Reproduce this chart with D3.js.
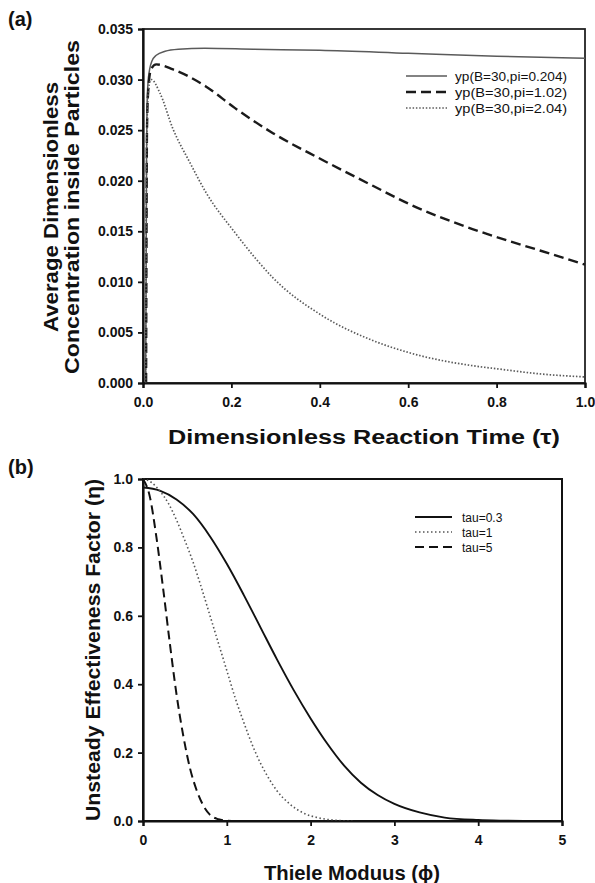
<!doctype html>
<head>
<meta charset="utf-8">
<script src="https://cdn.jsdelivr.net/npm/d3@7/dist/d3.min.js" charset="utf-8"></script>
<style>
body { margin: 0; background: #fff; }
text { font-family: "Liberation Sans", Arial, sans-serif; fill: #111; }
.narrow { font-family: "Liberation Sans Narrow", "Arial Narrow", "Liberation Sans", Arial, sans-serif; }
</style>
</head>
<body>
<script>

// panel (a): average dimensionless concentration vs tau
var tauA = [0.006, 0.007, 0.008, 0.009, 0.011, 0.015, 0.02, 0.03, 0.05, 0.08, 0.14, 0.25, 0.4, 0.6, 0.8, 1.0];
var yp0204 = [0, 0.010, 0.022, 0.027, 0.0295, 0.031, 0.0318, 0.0324, 0.0328, 0.0330, 0.0331, 0.0330, 0.0329, 0.0326, 0.0323, 0.0321];

var tauB = [0.007, 0.008, 0.009, 0.012, 0.018, 0.03, 0.068, 0.143, 0.2075, 0.294, 0.404, 0.52, 0.602, 0.747, 0.802, 0.898, 1.0];
var yp102 = [0, 0.015, 0.025, 0.029, 0.031, 0.0315, 0.0310, 0.0293, 0.0272, 0.0247, 0.0221, 0.0195, 0.0177, 0.0152, 0.0144, 0.0131, 0.0117];

var tauC = [0.006, 0.007, 0.008, 0.010, 0.014, 0.019, 0.038, 0.068, 0.106, 0.143, 0.2075, 0.257, 0.294, 0.404, 0.52, 0.602, 0.747, 0.802, 0.898, 1.0];
var yp204 = [0, 0.012, 0.022, 0.027, 0.0295, 0.030, 0.0287, 0.0251, 0.0218, 0.0188, 0.0149, 0.0122, 0.0104, 0.0067, 0.0042, 0.0030, 0.0017, 0.0014, 0.0009, 0.0006];

var legendA = ["yp(B=30,pi=0.204)", "yp(B=30,pi=1.02)", "yp(B=30,pi=2.04)"];
var yTicksA = [0, 0.005, 0.01, 0.015, 0.02, 0.025, 0.03, 0.035];
var xTicksA = [0, 0.2, 0.4, 0.6, 0.8, 1.0];

// panel (b): unsteady effectiveness factor vs Thiele modulus
var phi03 = [0, 0.2, 0.4, 0.6, 0.8, 1.0, 1.2, 1.4, 1.6, 1.8, 2.0, 2.2, 2.4, 2.6, 2.8, 3.0, 3.3, 3.6, 4.0, 4.3, 4.65];
var eta03 = [0.975, 0.966, 0.94, 0.897, 0.832, 0.752, 0.662, 0.567, 0.472, 0.382, 0.30, 0.226, 0.162, 0.112, 0.076, 0.05, 0.025, 0.01, 0.003, 0.001, 0];

var phi1 = [0, 0.1, 0.2, 0.3, 0.4, 0.5, 0.6, 0.7, 0.8, 0.9, 1.0, 1.1, 1.2, 1.3, 1.4, 1.5, 1.6, 1.75, 1.9, 2.1, 2.3, 2.5];
var eta1 = [1.0, 0.99, 0.965, 0.93, 0.88, 0.82, 0.755, 0.68, 0.60, 0.52, 0.44, 0.36, 0.29, 0.225, 0.17, 0.125, 0.088, 0.05, 0.025, 0.009, 0.002, 0];

var phi5 = [0, 0.08, 0.16, 0.24, 0.32, 0.40, 0.48, 0.56, 0.64, 0.72, 0.80, 0.9, 1.0, 1.15];
var eta5 = [1.0, 0.95, 0.83, 0.68, 0.52, 0.37, 0.25, 0.155, 0.09, 0.045, 0.018, 0.005, 0.001, 0];

var legendB = ["tau=0.3", "tau=1", "tau=5"];
var yTicksB = [0, 0.2, 0.4, 0.6, 0.8, 1.0];
var xTicksB = [0, 1, 2, 3, 4, 5];

var zip = (xs, ys) => xs.map((x, i) => [x, ys[i]]);

var svg = d3.select("body").append("svg")
  .attr("width", 595)
  .attr("height", 883);

function styleAxis(a, size) {
  a.select(".domain").style("stroke", "#111").style("stroke-width", 2.2);
  a.selectAll(".tick line").style("stroke", "#111").style("stroke-width", 1.8);
  a.selectAll(".tick text")
    .style("font-size", size + "px")
    .style("font-weight", "bold")
    .style("fill", "#111");
}

// ---------- panel (a)
var xa = d3.scaleLinear().domain([0, 1]).range([143, 585]);
var ya = d3.scaleLinear().domain([0, 0.035]).range([383, 29]);

svg.append("rect")
  .attr("x", xa(0)).attr("y", ya(0.035))
  .attr("width", xa(1) - xa(0)).attr("height", ya(0) - ya(0.035))
  .style("fill", "none").style("stroke", "#222").style("stroke-width", 1.8);

var lineA = d3.line().x(d => xa(d[0])).y(d => ya(d[1])).curve(d3.curveMonotoneX);

var seriesA = [
  {data: zip(tauA, yp0204), dash: null, width: 1.5, color: "#5a5a5a"},
  {data: zip(tauB, yp102), dash: "10,5", width: 2.4, color: "#1a1a1a"},
  {data: zip(tauC, yp204), dash: "1.5,1.8", width: 1.7, color: "#5a5a5a"}
];
svg.append("g").selectAll("path").data(seriesA).enter().append("path")
  .attr("d", d => lineA(d.data))
  .style("fill", "none")
  .style("stroke", d => d.color)
  .style("stroke-width", d => d.width)
  .style("stroke-dasharray", d => d.dash);

var axA = svg.append("g").attr("transform", "translate(" + xa(0) + ",0)")
  .call(d3.axisLeft(ya).tickValues(yTicksA).tickFormat(d3.format(".3f")).tickSize(5).tickPadding(5));
var axAx = svg.append("g").attr("transform", "translate(0," + ya(0) + ")")
  .call(d3.axisBottom(xa).tickValues(xTicksA).tickFormat(d3.format(".1f")).tickSize(5).tickPadding(9));
styleAxis(axA, 14);
styleAxis(axAx, 14);

var legA = svg.append("g");
legendA.forEach((t, i) => {
  var s = seriesA[i], yy = 76 + i * 16;
  legA.append("line").attr("x1", 406).attr("x2", 447).attr("y1", yy).attr("y2", yy)
    .style("stroke", s.color).style("stroke-width", s.width).style("stroke-dasharray", s.dash);
  legA.append("text").attr("x", 455).attr("y", yy + 4.5)
    .attr("textLength", 112).attr("lengthAdjust", "spacingAndGlyphs")
    .style("font-size", "13px").text(t);
});

svg.append("text").attr("x", 8).attr("y", 26)
  .style("font-size", "20px").style("font-weight", "bold").text("(a)");

svg.append("text")
  .attr("transform", "translate(58,207) rotate(-90)")
  .attr("text-anchor", "middle")
  .attr("textLength", 250).attr("lengthAdjust", "spacingAndGlyphs")
  .style("font-size", "20px").style("font-weight", "bold")
  .text("Average Dimensionless");
svg.append("text")
  .attr("transform", "translate(79,207) rotate(-90)")
  .attr("text-anchor", "middle")
  .attr("textLength", 334).attr("lengthAdjust", "spacingAndGlyphs")
  .style("font-size", "20px").style("font-weight", "bold")
  .text("Concentration inside Particles");

svg.append("text")
  .attr("x", 364).attr("y", 444)
  .attr("text-anchor", "middle")
  .attr("textLength", 392).attr("lengthAdjust", "spacingAndGlyphs")
  .style("font-size", "20px").style("font-weight", "bold")
  .text("Dimensionless Reaction Time (\u03c4)");

// ---------- panel (b)
var xb = d3.scaleLinear().domain([0, 5]).range([143, 562]);
var yb = d3.scaleLinear().domain([0, 1]).range([821, 479]);

svg.append("rect")
  .attr("x", xb(0)).attr("y", yb(1))
  .attr("width", xb(5) - xb(0)).attr("height", yb(0) - yb(1))
  .style("fill", "none").style("stroke", "#111").style("stroke-width", 2);

var lineB = d3.line().x(d => xb(d[0])).y(d => yb(d[1])).curve(d3.curveMonotoneX);

var seriesB = [
  {data: zip(phi03, eta03), dash: null, width: 1.9, color: "#111"},
  {data: zip(phi1, eta1), dash: "1.5,2.5", width: 1.6, color: "#555"},
  {data: zip(phi5, eta5), dash: "9,5", width: 2, color: "#111"}
];
svg.append("g").selectAll("path").data(seriesB).enter().append("path")
  .attr("d", d => lineB(d.data))
  .style("fill", "none")
  .style("stroke", d => d.color)
  .style("stroke-width", d => d.width)
  .style("stroke-dasharray", d => d.dash);

var axB = svg.append("g").attr("class", "narrow").attr("transform", "translate(" + xb(0) + ",0)")
  .call(d3.axisLeft(yb).tickValues(yTicksB).tickFormat(d3.format(".1f")).tickSize(5).tickPadding(5));
var axBx = svg.append("g").attr("class", "narrow").attr("transform", "translate(0," + yb(0) + ")")
  .call(d3.axisBottom(xb).tickValues(xTicksB).tickFormat(d3.format("d")).tickSize(5).tickPadding(9));
styleAxis(axB, 14);
styleAxis(axBx, 14);

var legB = svg.append("g");
legendB.forEach((t, i) => {
  var s = seriesB[i], yy = 517 + i * 15;
  legB.append("line").attr("x1", 415).attr("x2", 452).attr("y1", yy).attr("y2", yy)
    .style("stroke", s.color).style("stroke-width", s.width).style("stroke-dasharray", s.dash);
  legB.append("text").attr("class", "narrow").attr("x", 462).attr("y", yy + 4.5)
    .style("font-size", "12px").text(t);
});

svg.append("text").attr("x", 8).attr("y", 474)
  .style("font-size", "20px").style("font-weight", "bold").text("(b)");

svg.append("text").attr("class", "narrow")
  .attr("transform", "translate(100,650) rotate(-90)")
  .attr("text-anchor", "middle")
  .attr("textLength", 342).attr("lengthAdjust", "spacingAndGlyphs")
  .style("font-size", "20px").style("font-weight", "bold")
  .text("Unsteady Effectiveness Factor (\u03b7)");

svg.append("text").attr("class", "narrow")
  .attr("x", 352).attr("y", 880)
  .attr("text-anchor", "middle")
  .attr("textLength", 176).attr("lengthAdjust", "spacingAndGlyphs")
  .style("font-size", "20px").style("font-weight", "bold")
  .text("Thiele Moduus (\u03d5)");

</script>
</body>
</html>
